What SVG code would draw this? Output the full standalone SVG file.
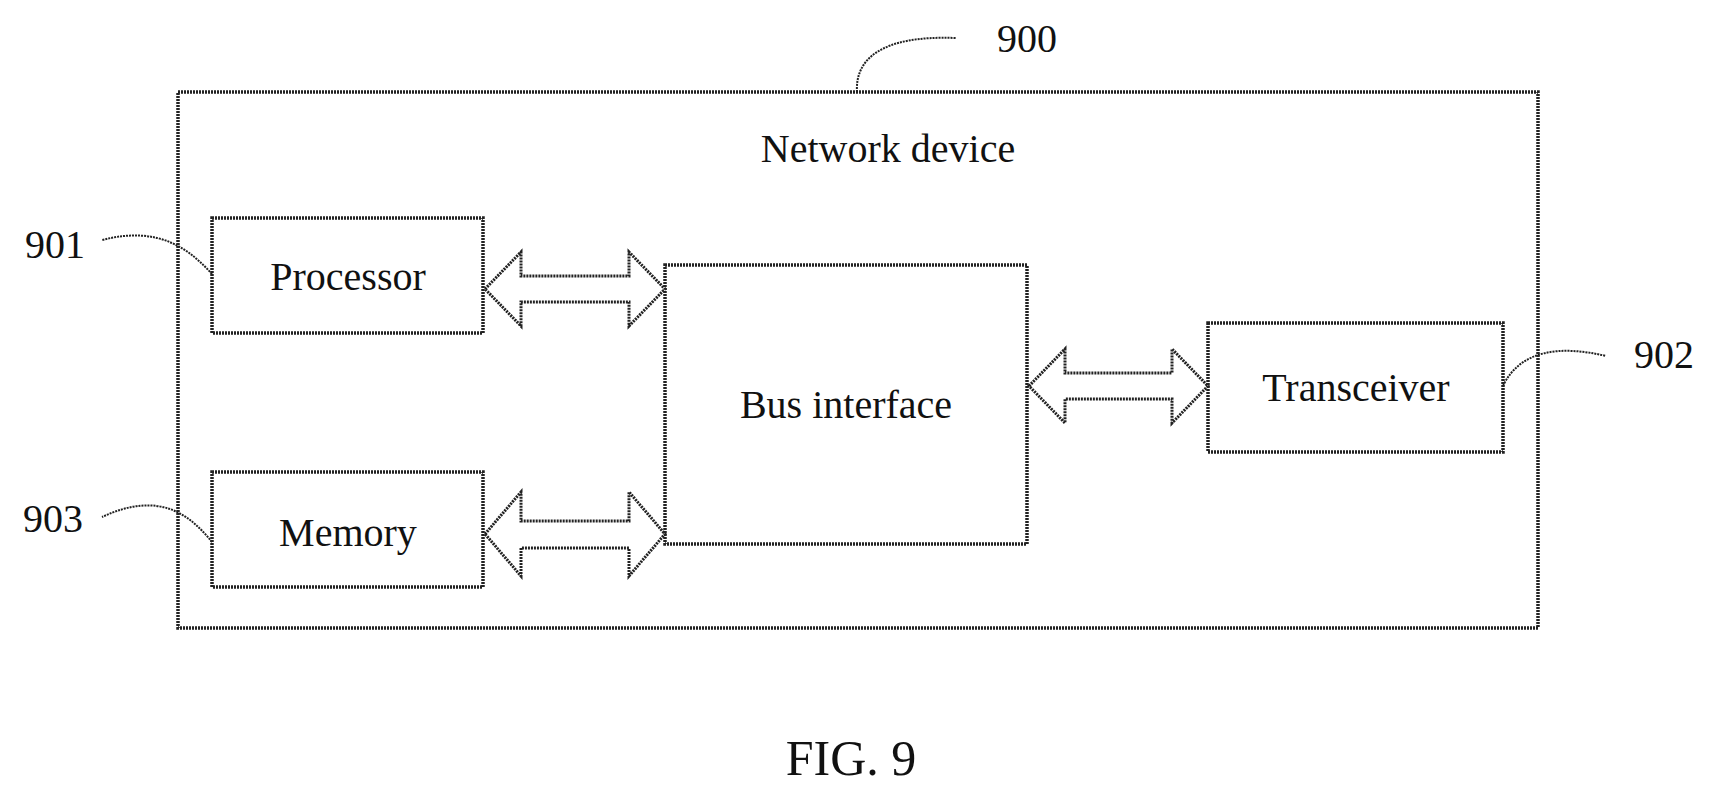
<svg xmlns="http://www.w3.org/2000/svg" width="1719" height="798" viewBox="0 0 1719 798">
<style>
.b{fill:#fff;stroke:#222;stroke-width:3.5;stroke-dasharray:2 1}
.a{fill:#fff;stroke:#222;stroke-width:3;stroke-dasharray:2 1}
.l{fill:none;stroke:#222;stroke-width:2;stroke-dasharray:2 1}
text{font-family:"Liberation Serif",serif;fill:#111;text-anchor:middle}
.t{font-size:40px}
</style>
<rect width="1719" height="798" fill="#fff"/>
<g id="n900"><rect class="b" x="178" y="92" width="1360" height="536"/><text class="t" x="888" y="162">Network device</text></g>
<g id="n901"><rect class="b" x="212" y="218" width="271" height="115"/><text class="t" x="348" y="290">Processor</text></g>
<g id="n903"><rect class="b" x="212" y="472" width="271" height="115"/><text class="t" x="348" y="546">Memory</text></g>
<g id="bus"><rect class="b" x="665" y="265" width="362" height="279"/><text class="t" x="846" y="418">Bus interface</text></g>
<g id="n902"><rect class="b" x="1208" y="323" width="295" height="129"/><text class="t" x="1356" y="401">Transceiver</text></g>
<g id="connectors">
<path class="a" d="M485,289 L521,252 L521,276 L629,276 L629,252 L665,289 L629,326 L629,302 L521,302 L521,326 Z"/>
<path class="a" d="M485,534 L521,492 L521,521 L629,521 L629,492 L665,534 L629,576 L629,548 L521,548 L521,576 Z"/>
<path class="a" d="M1029,386 L1065,349 L1065,373 L1172,373 L1172,349 L1208,386 L1172,423 L1172,399 L1065,399 L1065,423 Z"/>
<path class="l" d="M857,92 C855,60 880,35 956,38"/>
<path class="l" d="M212,274 C190,250 160,225 102,240"/>
<path class="l" d="M212,542 C190,515 160,490 102,517"/>
<path class="l" d="M1503,386 C1520,350 1560,345 1606,356"/>
</g>
<text class="t" x="1027" y="52">900</text>
<text class="t" x="55" y="258">901</text>
<text class="t" x="53" y="532">903</text>
<text class="t" x="1664" y="368">902</text>
<text x="851" y="775" font-size="50">FIG. 9</text>
</svg>
